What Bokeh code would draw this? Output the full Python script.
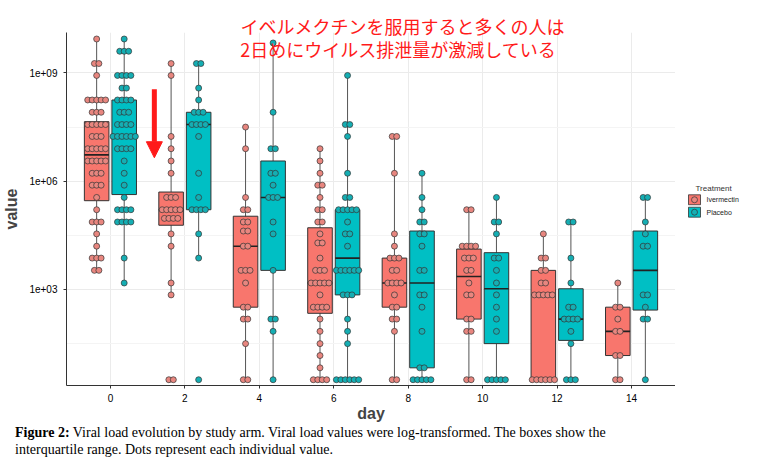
from bokeh.plotting import figure
from bokeh.models import (FixedTicker, Label, Title, Arrow, NormalHead, Div, Range1d)
from bokeh.layouts import column, row
from bokeh.core.properties import value
from bokeh.embed import file_html
from bokeh.resources import INLINE

days = [0, 2, 4, 6, 8, 10, 12, 14]
y_ticks = [3, 6, 9]
y_tick_labels = ["1e+03", "1e+06", "1e+09"]
groups = ["Ivermectin", "Placebo"]

# log10(value) box stats per day
iv_q1 = [5.46, 4.78, 2.51, 2.34, 2.51, 2.18, 0.50, 1.17]
iv_med = [6.73, 5.21, 4.20, 3.18, 3.18, 3.36, 2.85, 1.84]
iv_q3 = [7.65, 5.70, 5.03, 4.71, 3.87, 4.12, 3.53, 2.51]
iv_lo = [3.53, 2.85, 0.50, 0.50, 0.50, 0.50, 0.50, 0.50]
iv_hi = [9.94, 9.26, 7.50, 6.90, 7.24, 5.21, 4.54, 3.18]

pl_q1 = [5.63, 5.21, 3.53, 2.85, 0.83, 1.50, 1.59, 2.43]
pl_med = [7.24, 7.57, 5.55, 3.87, 3.18, 3.02, 2.18, 3.53]
pl_q3 = [8.25, 7.91, 6.56, 5.21, 4.62, 4.02, 3.02, 4.62]
pl_lo = [3.18, 3.87, 0.50, 0.50, 0.50, 0.50, 0.50, 0.50]
pl_hi = [9.94, 9.26, 9.83, 8.93, 6.22, 5.55, 4.87, 5.55]

# dot rows: (log10 value, number of dots)
iv_dots = [
    [(9.94,1),(9.26,2),(8.93,1),(8.25,5),(7.91,3),(7.57,5),(7.24,3),(6.90,5),(6.56,5),(6.22,3),(5.89,3),(5.55,1),(5.21,1),(4.87,3),(4.54,1),(4.20,1),(3.87,3),(3.53,2)],
    [(9.26,1),(8.93,1),(7.24,1),(6.90,1),(6.56,1),(6.22,1),(5.55,3),(5.21,5),(4.97,4),(4.54,1),(4.20,1),(3.18,1),(2.85,1),(0.50,2)],
    [(7.50,1),(6.90,1),(5.55,1),(5.21,2),(4.87,2),(4.62,2),(4.20,2),(3.53,3),(3.18,1),(2.51,2),(2.18,2),(1.50,1),(0.50,2)],
    [(6.90,1),(6.56,1),(6.22,1),(5.89,2),(5.55,1),(5.21,2),(4.87,2),(4.54,1),(4.29,2),(3.87,1),(3.53,3),(3.18,5),(2.85,1),(2.51,4),(2.18,1),(1.84,1),(1.50,1),(1.17,1),(0.83,1),(0.50,4)],
    [(7.24,2),(6.22,1),(4.54,1),(4.20,1),(3.87,3),(3.53,2),(3.18,4),(2.85,1),(2.51,2),(2.18,2),(1.84,1),(0.50,2)],
    [(5.21,2),(4.20,4),(3.87,3),(3.53,2),(3.18,1),(2.85,2),(2.18,2),(1.84,2),(0.50,2)],
    [(4.54,1),(3.87,2),(3.53,2),(3.18,2),(2.85,5),(0.50,6)],
    [(3.18,1),(2.51,2),(2.18,1),(1.84,2),(1.17,2),(0.50,2)],
]
pl_dots = [
    [(9.94,1),(9.60,3),(8.93,4),(8.58,2),(8.25,4),(7.91,3),(7.57,4),(7.24,6),(6.90,4),(6.56,1),(6.22,1),(5.89,1),(5.55,1),(5.21,4),(4.87,4),(3.87,1),(3.18,1)],
    [(9.26,2),(8.58,1),(8.25,1),(7.91,3),(7.57,4),(7.24,1),(6.22,1),(5.55,1),(5.21,4),(4.54,1),(3.87,1),(0.50,1)],
    [(9.83,1),(7.91,1),(6.90,2),(6.22,2),(5.89,1),(5.55,3),(4.87,1),(4.54,1),(3.53,1),(2.18,2),(1.84,1),(0.50,1)],
    [(8.93,1),(7.57,2),(7.24,1),(6.22,1),(5.55,2),(5.21,5),(4.87,1),(4.54,2),(4.20,1),(3.53,6),(2.85,3),(2.18,1),(1.84,1),(1.50,1),(0.50,6)],
    [(6.22,1),(5.55,1),(5.21,1),(4.87,2),(4.54,2),(4.20,1),(3.53,2),(2.85,2),(2.51,1),(1.84,1),(0.83,2),(0.50,5)],
    [(5.55,1),(4.87,2),(4.54,1),(3.87,2),(3.53,1),(3.18,1),(2.85,1),(2.51,1),(2.18,1),(1.84,1),(0.50,5)],
    [(4.87,2),(3.87,1),(3.18,1),(2.51,2),(2.18,4),(1.84,1),(1.50,1),(0.50,3)],
    [(5.55,2),(4.87,1),(4.54,1),(4.20,2),(2.85,2),(2.51,1),(2.18,2),(0.50,1)],
]

IV_COL = "#F8766D"
PL_COL = "#00BFC4"
IV_DOT = "#E8867F"
PL_DOT = "#15AEB3"
FONT = "Liberation Sans"
RED = "#FF1A1A"

p = figure(frame_width=609, frame_height=353, x_range=Range1d(-1.18, 15.18), y_range=Range1d(0.34, 10.12),
           output_backend="svg", toolbar_location=None,
           min_border_left=61, min_border_top=32, min_border_bottom=28, min_border_right=0)
p.outline_line_color = None
p.xgrid.ticker = FixedTicker(ticks=days)
p.xaxis.ticker = FixedTicker(ticks=days)
p.yaxis.ticker = FixedTicker(ticks=y_ticks, minor_ticks=[1.5, 4.5, 7.5])
p.yaxis.major_label_overrides = {t: l for t, l in zip(y_ticks, y_tick_labels)}
p.grid.grid_line_color = "#EBEBEB"
p.ygrid.minor_grid_line_color = "#F4F4F4"
p.xaxis.axis_label = "day"
p.yaxis.axis_label = "value"
for ax in (p.xaxis, p.yaxis):
    ax.axis_label_text_font = FONT
    ax.axis_label_text_font_style = "bold"
    ax.axis_label_text_font_size = "16px"
    ax.major_label_text_font = FONT
    ax.major_label_text_font_size = "10px"
    ax.major_label_text_color = "black"
    ax.axis_line_color = "#333333"
    ax.major_tick_line_color = "#333333"
    ax.major_tick_out = 3
    ax.major_tick_in = 0
    ax.minor_tick_line_color = None
p.xaxis.axis_label_standoff = 0
p.yaxis.axis_label_standoff = 6

OFF = 0.37
W = 0.66
DX = 0.12
for col, dotcol, sgn, q1, med, q3, lo, hi, dots in [
    (IV_COL, IV_DOT, -1, iv_q1, iv_med, iv_q3, iv_lo, iv_hi, iv_dots),
    (PL_COL, PL_DOT, 1, pl_q1, pl_med, pl_q3, pl_lo, pl_hi, pl_dots),
]:
    xs = [d + sgn * OFF for d in days]
    p.segment(x0=xs, x1=xs, y0=lo, y1=hi, line_color="#555555", line_width=1)
    p.quad(left=[x - W / 2 for x in xs], right=[x + W / 2 for x in xs], bottom=q1, top=q3,
           fill_color=col, line_color="#333333", line_width=1)
    p.segment(x0=[x - W / 2 for x in xs], x1=[x + W / 2 for x in xs], y0=med, y1=med,
              line_color="#222222", line_width=1.6)
    dx, dy = [], []
    for x, rows in zip(xs, dots):
        for v, n in rows:
            for i in range(n):
                dx.append(x + (i - (n - 1) / 2) * DX)
                dy.append(v)
    p.scatter(dx, dy, size=6, fill_color=dotcol, line_color="#333333", line_width=0.7)

p.add_layout(Title(text="イベルメクチンを服用すると多くの人は", align="left", offset=174,
                   text_color=RED, text_font="Noto Sans CJK JP", text_font_size="18px",
                   text_font_style="normal", standoff=-12), "above")
p.add_layout(Label(x=3.49, y=9.65, text="2日めにウイルス排泄量が激減している",
                   text_color=RED, text_font="Noto Sans CJK JP", text_font_size="18px",
                   text_baseline="middle"))
p.add_layout(Arrow(end=NormalHead(size=16, fill_color=RED, line_color=RED),
                   x_start=1.18, y_start=8.55, x_end=1.18, y_end=6.65,
                   line_color=RED, line_width=5))

# legend as separate small panel
LH = 413
lg = figure(width=81, height=LH, x_range=Range1d(0, 81), y_range=Range1d(LH, 0),
            output_backend="svg", toolbar_location=None, min_border=0)
lg.axis.visible = False
lg.grid.visible = False
lg.outline_line_color = None
lg.text(x=[20], y=[188], text=["Treatment"], text_font=value(FONT), text_font_size="8px",
        text_baseline="middle", text_color="#333333")
key_y = [202, 217]
lg.quad(left=[13, 13], right=[25, 25], top=[y - 6 for y in key_y], bottom=[y + 6 for y in key_y],
        fill_color=[IV_COL, PL_COL], line_color="#333333", line_width=0.8)
lg.scatter([19, 19], key_y, size=6, fill_color=[IV_DOT, PL_DOT], line_color="#333333", line_width=0.7)
lg.text(x=[31, 31], y=key_y, text=groups, text_font=value(FONT), text_font_size="7px",
        text_baseline="middle", text_color="#222222")

cap = Div(text="<b>Figure 2:</b> Viral load evolution by study arm. Viral load values were log-transformed. The boxes show the interquartile range. Dots represent each individual value.",
          width=640, styles={"font-family": "Liberation Serif", "font-size": "14px",
                             "line-height": "17px", "padding-left": "10px", "margin-top": "0px"})

layout = column(row(p, lg, spacing=0), cap, spacing=0)
open("out.html", "w").write(file_html(layout, INLINE))
